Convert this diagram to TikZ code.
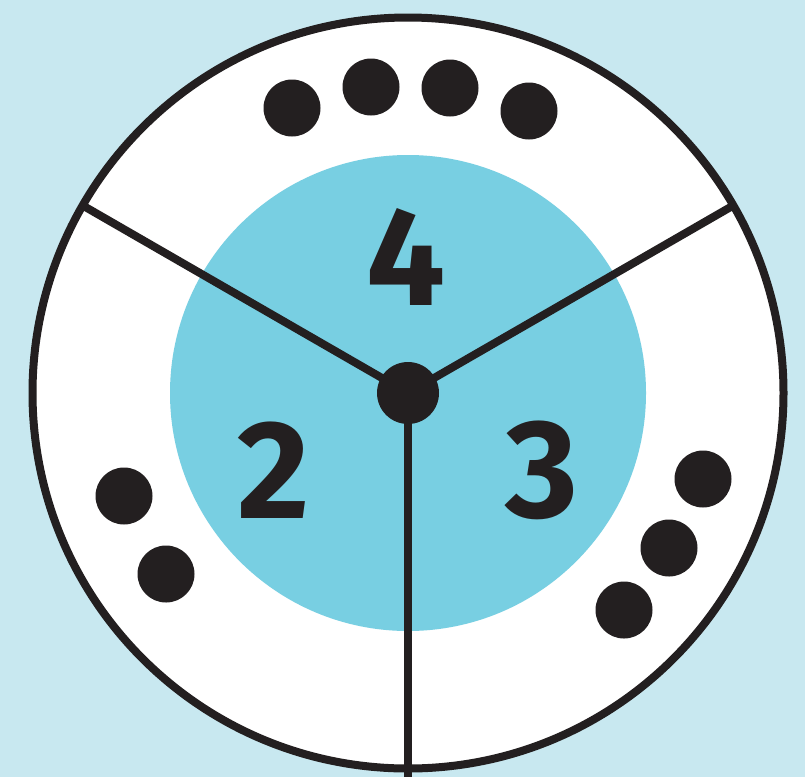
\documentclass[tikz,border=0pt]{standalone}
\usepackage{fontspec}
\setmainfont{Fira Sans}
\usetikzlibrary{calc}
\definecolor{bgblue}{HTML}{C8E8F0}
\definecolor{midblue}{HTML}{78CFE2}
\definecolor{ink}{HTML}{231F20}
\begin{document}
\begin{tikzpicture}[x=1pt,y=-1pt,
  dot/.style={circle,fill=ink,inner sep=0pt,minimum size=57pt},
  num/.style={text=ink,font=\fontsize{140}{140}\selectfont\bfseries,inner sep=0pt},
  spoke/.style={draw=ink,line width=8pt}]
\fill[bgblue] (0,0) rectangle (805,777);
\useasboundingbox (0,0) rectangle (805,777);
\coordinate (c) at (408,393);
\fill[white] (c) circle (375.5);
\fill[midblue] (c) circle (238);
\coordinate (e1) at ($(c)+(-327,-188.5)$);
\coordinate (e2) at ($(c)+(327,-188.5)$);
\coordinate (e3) at (408,777);
\draw[spoke] (c) -- (e1);
\draw[spoke] (c) -- (e2);
\draw[spoke] (c) -- (e3);
\draw[ink,line width=8pt] (c) circle (375.5);
\node[dot,minimum size=62pt] (hub) at (c) {};
\node[dot] (t1) at (292,108) {};
\node[dot] (t2) at (371,87) {};
\node[dot] (t3) at (450,88) {};
\node[dot] (t4) at (529,111) {};
\node[dot] (l1) at (124,496) {};
\node[dot] (l2) at (166,574) {};
\node[dot] (r1) at (703,479) {};
\node[dot] (r2) at (669,548) {};
\node[dot] (r3) at (624,610) {};
\node[num] (n4) at (406,257) {4};
\node[num] (n2) at (274,470) {2};
\node[num] (n3) at (542,470) {3};
\end{tikzpicture}
\end{document}
